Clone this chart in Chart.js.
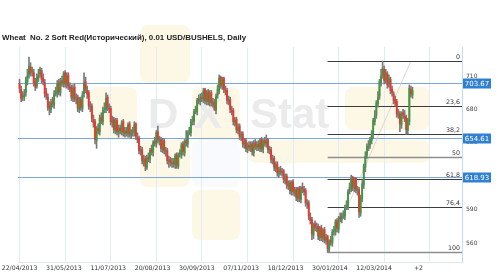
<!DOCTYPE html>
<html><head><meta charset="utf-8">
<script src="https://cdn.jsdelivr.net/npm/chart.js@4/dist/chart.umd.min.js"></script>
<style>html,body{margin:0;padding:0;background:#fff;}canvas{display:block;}</style>
</head><body>
<canvas id="c" width="500" height="279"></canvas>
<script>
const titleText = "Wheat  No. 2 Soft Red(Исторический), 0.01 USD/BUSHELS, Daily";

const opens = [
703,698,691,691,695,705,711,718,714,713,
705,701,708,712,715,708,704,695,691,683,
680,687,684,695,694,704,695,706,703,713,
702,711,700,700,690,700,689,691,680,689,
681,694,705,697,695,682,683,671,669,652,
663,660,673,669,680,680,691,681,681,668,
671,661,670,659,663,660,669,658,661,658,
667,657,660,659,667,655,654,642,644,633,
636,628,637,635,644,641,651,649,660,652,
653,644,652,642,643,633,635,631,633,630,
639,629,640,639,649,641,652,649,660,659,
670,669,679,678,689,687,691,689,698,687,
696,686,695,685,687,679,693,697,709,701,
708,697,697,687,689,679,679,668,671,661,
665,655,658,648,652,644,648,645,649,641,
650,646,649,645,653,644,652,649,653,643,
644,634,636,627,631,622,626,623,625,616,
620,611,614,606,615,605,608,600,609,599,
610,608,607,595,596,583,581,567,577,573,
575,565,574,564,572,562,566,554,562,560,
571,570,580,572,583,581,585,584,593,593,
607,609,619,609,618,607,608,587,600,612,
628,639,646,648,652,657,669,675,685,692,
704,711,716,707,712,703,707,698,694,689,
687,675,676,666,677,674,673,661,669,698,
693];

const highs = [
707,701,696,698,709,716,727,722,718,716,
708,712,716,718,717,712,707,699,694,687,
689,691,697,700,706,707,708,710,714,715,
713,713,704,702,702,703,694,693,691,691,
696,713,709,701,697,687,685,675,671,665,
667,675,677,682,686,695,693,685,683,674,
673,672,672,666,666,670,671,664,664,668,
669,662,664,669,668,659,656,647,646,639,
638,639,641,645,648,652,655,661,665,656,
655,654,654,646,645,638,637,636,636,640,
641,641,644,650,651,653,661,661,664,671,
674,680,683,690,693,694,695,699,699,697,
698,697,697,690,689,694,702,711,710,709,
709,701,699,692,691,683,681,673,673,667,
667,660,660,654,654,650,651,651,651,652,
653,651,652,654,655,653,655,657,654,647,
646,639,638,633,633,628,629,627,626,622,
622,616,616,616,617,610,610,610,611,611,
614,611,609,599,598,587,583,578,580,578,
577,575,576,573,574,568,567,563,566,572,
575,581,582,584,587,587,589,594,598,608,
614,621,620,619,619,611,610,603,616,631,
642,649,652,655,661,672,679,688,696,707,
716,723.5,719,716,714,711,709,701,696,692,
689,680,678,678,680,679,675,672,702,701,
700];

const lows = [
695,687,688,688,692,702,708,710,710,701,
697,699,705,709,704,702,691,689,679,675,
677,682,681,692,691,693,692,701,700,700,
699,698,696,688,687,687,685,678,677,679,
678,691,695,690,680,678,669,664,649,645,
658,657,667,666,677,677,679,677,666,664,
659,658,657,655,658,657,656,655,656,655,
655,654,656,656,653,650,640,639,631,629,
625,626,633,632,639,638,647,646,650,648,
642,641,640,638,631,628,629,628,628,627,
627,627,637,636,639,638,647,646,657,656,
666,666,676,675,685,684,687,686,685,684,
684,683,683,682,679,676,690,694,699,698,
695,693,685,684,677,675,666,665,659,658,
653,652,646,645,642,641,643,642,639,638,
644,643,643,642,642,641,647,646,641,640,
632,631,625,624,620,619,621,620,614,613,
609,608,604,603,603,602,598,597,597,596,
605,603,593,591,581,577,563,564,571,570,
563,562,562,561,560,559,551.5,552,558,557,
567,567,570,569,579,578,582,581,590,590,
604,606,607,606,605,603,583,584,597,609,
624,636,643,645,649,654,666,672,682,689,
701,708,703,704,699,700,694,692,685,683,
673,672,660,663,672,669,657.5,658,666,691,
690];

const closes = [
699,690,692,694,706,710,719,713,714,704,
700,709,711,716,707,705,694,692,682,681,
686,685,694,695,703,696,705,704,712,703,
710,701,699,691,699,690,690,681,688,682,
693,704,698,694,683,682,672,668,653,662,
661,672,670,679,681,690,682,680,669,670,
662,669,660,662,661,668,659,660,659,666,
658,659,660,666,656,653,643,643,634,635,
629,636,636,643,642,650,650,659,653,652,
645,651,643,642,634,634,632,632,631,638,
630,639,640,648,642,651,650,659,660,669,
670,678,679,688,688,690,690,697,688,695,
687,694,686,686,680,692,698,708,702,707,
698,696,688,688,680,678,669,670,662,664,
656,657,649,651,645,647,646,648,642,649,
647,648,646,652,645,651,650,652,644,643,
635,635,628,630,623,625,624,624,617,619,
612,613,607,614,606,607,601,608,600,609,
609,606,596,595,584,580,568,576,574,574,
566,573,565,571,563,565,555,561,561,570,
571,579,573,582,582,584,585,592,594,606,
610,618,610,617,608,607,588,601,613,629,
638,647,647,653,656,670,674,686,691,705,
710,717,706,713,702,708,697,695,688,686,
676,675,667,676,675,672,662,670,699,694,
697];

const gridBars = [0, 29, 58, 87, 116, 145, 174, 203, 232, 261];
const labelBars = [0, 28.2, 56.4, 84.6, 112.8, 141, 169.2, 197.4, 225.6, 253.8];
const tickLabels = ["22/04/2013","31/05/2013","11/07/2013","20/08/2013","30/09/2013","07/11/2013","18/12/2013","30/01/2014","12/03/2014","+2"];
const priceTicks = [560, 590, 620, 650, 680, 710];
const markerPrices = [703.67, 654.61, 618.93];
const fibLevels = [0, 23.6, 38.2, 50, 61.8, 76.4, 100];
const fibLabels = ["0", "23,6", "38,2", "50", "61,8", "76,4", "100"];
const fibHigh = 723.5;
const fibLow = 551.5;
const fibStartBar = 196;
const fibEndBar = 249;

const wickData = highs.map((h, i) => ({x: i, y: [lows[i], h]}));
const bodyData = opens.map((o, i) => ({x: i, y: [o, closes[i]]}));

function rr(ctx, x, y, w, h, r) {
  ctx.beginPath();
  ctx.moveTo(x + r, y);
  ctx.arcTo(x + w, y, x + w, y + h, r);
  ctx.arcTo(x + w, y + h, x, y + h, r);
  ctx.arcTo(x, y + h, x, y, r);
  ctx.arcTo(x, y, x + w, y, r);
  ctx.closePath();
}

const overlay = {
  id: 'overlay',
  beforeDraw(chart) {
    const ctx = chart.ctx;
    ctx.save();
    ctx.fillStyle = '#ffffff';
    ctx.fillRect(0, 0, chart.width, chart.height);
    const yellow = '#fdf8e6';
    const tiles = [
      [140, 25, 50, 58, yellow], [90, 87, 47, 53, yellow], [192, 87, 48, 53, yellow],
      [140, 140, 50, 47, yellow], [192, 140, 48, 47, '#f9fafd'], [192, 190, 48, 50, yellow],
      [248, 140, 182, 23, yellow], [345, 87, 85, 43, yellow]
    ];
    tiles.forEach(t => { ctx.fillStyle = t[4]; rr(ctx, t[0], t[1], t[2], t[3], 8); ctx.fill(); });
    ctx.fillStyle = '#ebebeb';
    ctx.font = 'bold 42px "Liberation Sans", Arial, sans-serif';
    ctx.textBaseline = 'alphabetic';
    ctx.fillText('D', 148, 128);
    ctx.fillText('X', 194, 128);
    ctx.fillText('Stat', 250, 128);
    ctx.restore();
  },
  beforeDatasetsDraw(chart) {
    const ctx = chart.ctx, a = chart.chartArea;
    const xs = chart.scales.x, ys = chart.scales.y;
    ctx.save();
    ctx.strokeStyle = '#79a6dc';
    ctx.lineWidth = 1;
    markerPrices.forEach(p => {
      const y = Math.round(ys.getPixelForValue(p)) + 0.5;
      ctx.beginPath(); ctx.moveTo(a.left, y); ctx.lineTo(a.right, y); ctx.stroke();
    });
    ctx.strokeStyle = '#cfcfcf';
    ctx.lineWidth = 0.8;
    ctx.beginPath();
    ctx.moveTo(xs.getPixelForValue(fibStartBar), ys.getPixelForValue(fibLow));
    ctx.lineTo(xs.getPixelForValue(fibEndBar), ys.getPixelForValue(fibHigh));
    ctx.stroke();
    const x0 = xs.getPixelForValue(fibStartBar);
    fibLevels.forEach(r => {
      const p = fibHigh - r / 100 * (fibHigh - fibLow);
      const y = Math.round(ys.getPixelForValue(p)) + 0.5;
      const light = (r === 50 || r === 100);
      ctx.strokeStyle = light ? '#8e8e8e' : '#3c3c3c';
      ctx.lineWidth = light ? 1.6 : 1;
      ctx.beginPath(); ctx.moveTo(x0, y); ctx.lineTo(a.right, y); ctx.stroke();
    });
    ctx.restore();
  },
  afterDraw(chart) {
    const ctx = chart.ctx, a = chart.chartArea;
    const ys = chart.scales.y;
    ctx.save();
    ctx.fillStyle = '#333';
    ctx.font = '6.3px "DejaVu Sans", sans-serif';
    ctx.textAlign = 'right';
    ctx.textBaseline = 'alphabetic';
    fibLevels.forEach((r, i) => {
      const p = fibHigh - r / 100 * (fibHigh - fibLow);
      const y = ys.getPixelForValue(p);
      ctx.fillText(fibLabels[i], a.right - 2, y - 2);
    });
    markerPrices.forEach(p => {
      const y = Math.round(ys.getPixelForValue(p)) + 0.5;
      ctx.fillStyle = '#2f80d3';
      ctx.fillRect(a.right + 1, y - 5, 28, 10);
      ctx.fillStyle = '#ffffff';
      ctx.font = '7px "DejaVu Sans", sans-serif';
      ctx.textAlign = 'center';
      ctx.textBaseline = 'middle';
      ctx.fillText(p.toFixed(2), a.right + 15, y + 0.5);
    });
    ctx.fillStyle = '#222';
    ctx.font = 'bold 7.9px "Liberation Sans", Arial, sans-serif';
    ctx.textAlign = 'left';
    ctx.textBaseline = 'alphabetic';
    ctx.fillText(titleText, 2, 40);
    ctx.restore();
  }
};

new Chart(document.getElementById('c'), {
  type: 'bar',
  data: {
    datasets: [
      {label: 'wick', data: wickData, backgroundColor: '#7a7a7a', barThickness: 1, grouped: false, order: 2, borderWidth: 0},
      {label: 'body', data: bodyData, backgroundColor: c => (closes[c.dataIndex] >= opens[c.dataIndex] ? '#3e9a3e' : '#f0352c'),
       barThickness: 1.2, grouped: false, order: 1, minBarLength: 1, borderWidth: 0}
    ]
  },
  options: {
    responsive: false,
    animation: false,
    devicePixelRatio: 1,
    layout: {padding: {left: 18, top: 47, right: 0, bottom: 0}},
    plugins: {legend: {display: false}, tooltip: {enabled: false}, title: {display: false}},
    scales: {
      x: {
        type: 'linear', position: 'bottom', min: -1, max: 281.5, offset: false,
        afterBuildTicks: s => { s.ticks = gridBars.map(v => ({value: v})); },
        afterFit: s => { s.height = 0; s.paddingLeft = 0; s.paddingRight = 0; },
        grid: {color: '#e3ecf6', lineWidth: 1, drawTicks: false, offset: false},
        border: {display: false},
        ticks: {display: false}
      },
      xl: {
        type: 'linear', position: 'bottom', min: -1, max: 281.5, offset: false,
        afterBuildTicks: s => { s.ticks = labelBars.map(v => ({value: v})); },
        afterFit: s => { s.height = 17; s.paddingLeft = 0; s.paddingRight = 0; },
        grid: {display: false, drawTicks: false},
        border: {display: true, color: '#dfe8f2'},
        ticks: {autoSkip: false, maxRotation: 0, padding: 3, color: '#333',
                font: {family: 'DejaVu Sans', size: 6.2},
                callback: (v, i) => tickLabels[i]}
      },
      y: {
        type: 'linear', position: 'right', min: 542.9, max: 736.1,
        afterBuildTicks: s => { s.ticks = priceTicks.map(v => ({value: v})); },
        afterFit: s => { s.width = 38; },
        grid: {display: false, drawTicks: false},
        border: {display: true, color: '#c6daef'},
        ticks: {color: '#444', padding: 4, font: {family: 'DejaVu Sans', size: 6},
                callback: v => String(v)}
      }
    }
  },
  plugins: [overlay]
});
</script>
</body></html>
